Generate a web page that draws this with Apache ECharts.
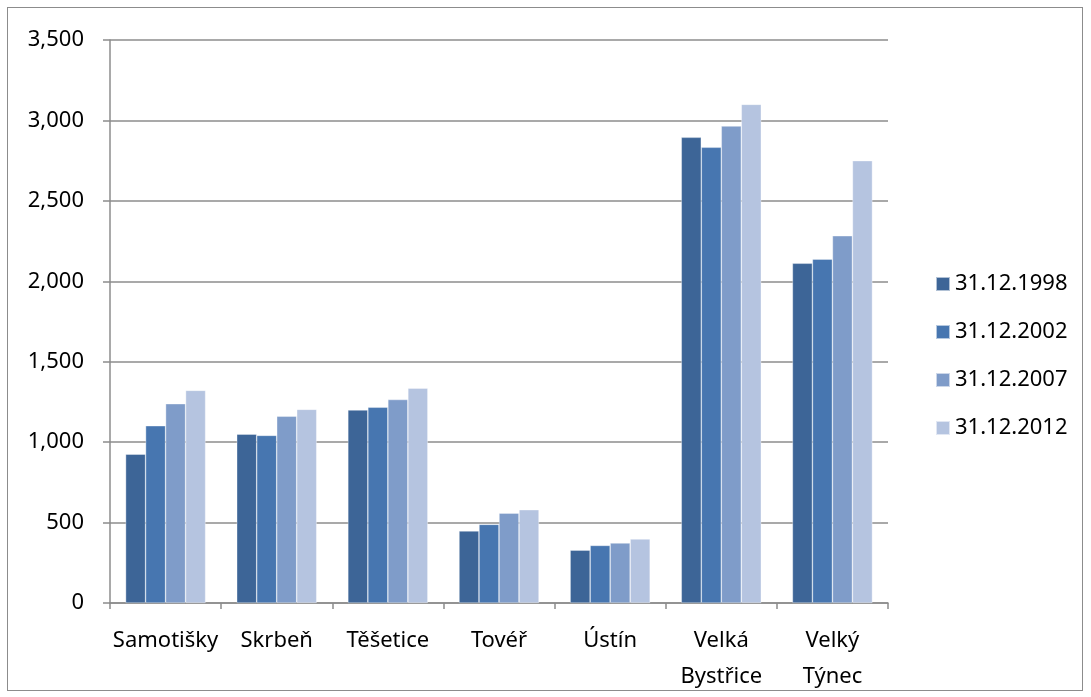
<!DOCTYPE html>
<html>
<head>
<meta charset="utf-8">
<script src="https://cdn.jsdelivr.net/npm/echarts@6/dist/echarts.min.js"></script>
<style>
html,body{margin:0;padding:0;background:#fff;}
#frame{position:absolute;left:7px;top:7px;width:1076px;height:684px;border:1px solid #8c8c8c;box-sizing:border-box;}
#c{position:absolute;left:0;top:0;width:1091px;height:697px;}
</style>
</head>
<body>
<div id="frame"></div>
<div id="c"></div>
<script>
var categories = ['Samotišky', 'Skrbeň', 'Těšetice', 'Tovéř', 'Ústín', 'Velká\nBystřice', 'Velký\nTýnec'];
var seriesNames = ['31.12.1998', '31.12.2002', '31.12.2007', '31.12.2012'];
var v1998 = [925, 1050, 1200, 448, 329, 2895, 2112];
var v2002 = [1102, 1042, 1217, 489, 358, 2833, 2138];
var v2007 = [1239, 1161, 1265, 559, 373, 2965, 2283];
var v2012 = [1322, 1204, 1336, 580, 398, 3100, 2750];
var colors = ['#3D6597', '#4776B0', '#7F9CC9', '#B5C4E0'];
var values = [v1998, v2002, v2007, v2012];

var chart = echarts.init(document.getElementById('c'));
var font = 'Noto Sans';
chart.setOption({
  animation: false,
  backgroundColor: 'transparent',
  grid: {left: 110, right: 203, top: 40, bottom: 94, containLabel: false},
  legend: {
    orient: 'vertical', left: 930, top: 268,
    itemWidth: 14, itemHeight: 14, itemGap: 26, icon: 'rect',
    textStyle: {fontFamily: font, fontSize: 22, color: '#000'},
    data: seriesNames
  },
  xAxis: {
    type: 'category', data: categories,
    axisLine: {lineStyle: {color: '#8c8c8c', width: 1.5}},
    axisTick: {show: true, length: 6, lineStyle: {color: '#8c8c8c', width: 1.5}},
    axisLabel: {fontFamily: font, fontSize: 22, color: '#000', margin: 20, lineHeight: 36, interval: 0}
  },
  yAxis: {
    type: 'value', min: 0, max: 3500, interval: 500,
    axisLine: {show: true, lineStyle: {color: '#8c8c8c', width: 1.5}},
    axisTick: {show: true, length: 7, lineStyle: {color: '#8c8c8c', width: 1.5}},
    splitLine: {lineStyle: {color: '#8c8c8c', width: 1.5}},
    axisLabel: {fontFamily: font, fontSize: 22, color: '#000', margin: 26,
      formatter: function (v) { return v.toLocaleString('en-US'); }}
  },
  series: seriesNames.map(function (n, i) {
    return {
      name: n, type: 'bar', data: values[i],
      barGap: '0%', barCategoryGap: '28%',
      itemStyle: {color: colors[i], borderColor: 'rgba(255,255,255,0.6)', borderWidth: 0.6}
    };
  })
});
</script>
</body>
</html>
